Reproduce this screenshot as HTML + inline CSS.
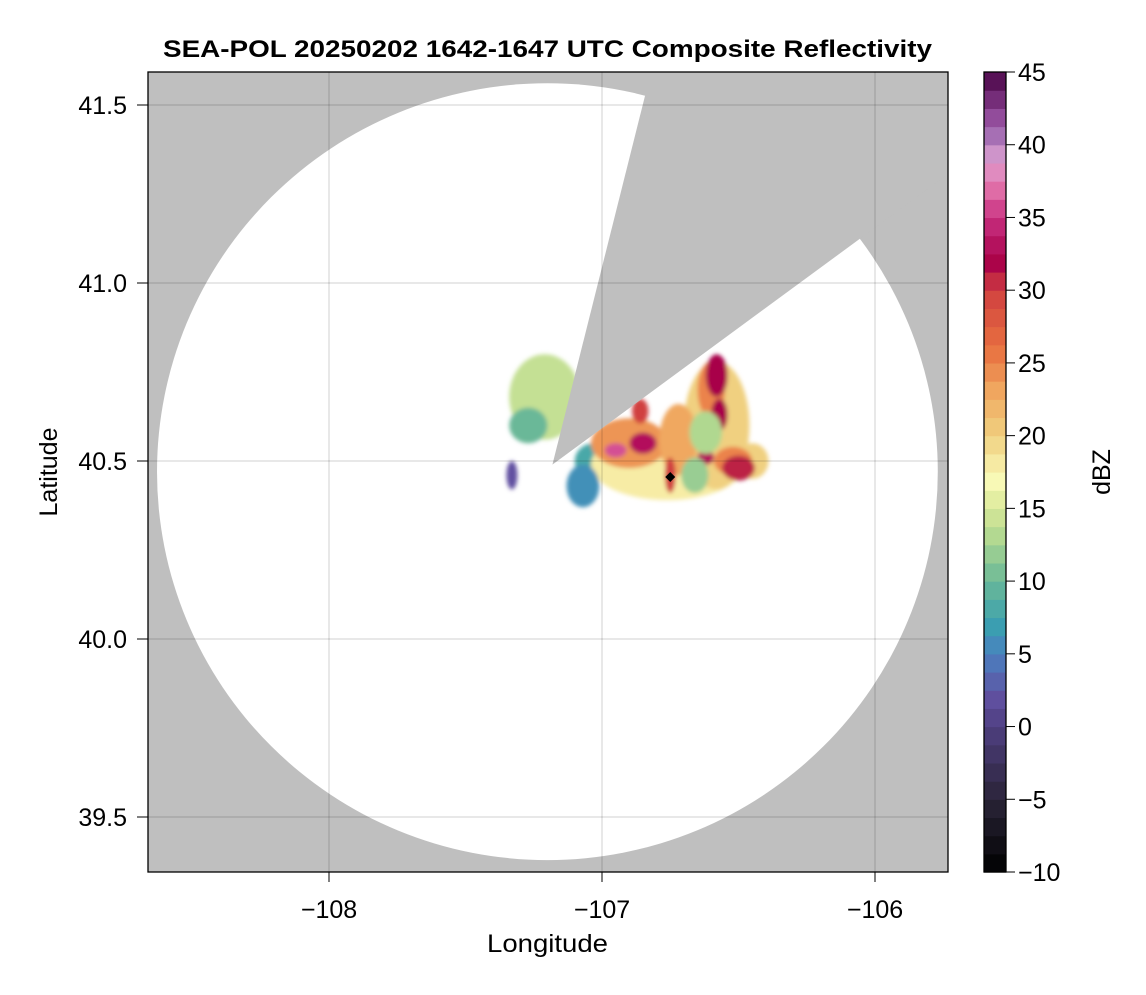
<!DOCTYPE html>
<html><head><meta charset="utf-8"><style>
body{margin:0;background:#fff;}
svg text{font-family:"Liberation Sans",Arial,sans-serif;fill:#000;}
</style></head><body>
<svg id="chart" width="1146" height="990" viewBox="0 0 1146 990" xmlns="http://www.w3.org/2000/svg">
<defs>
<clipPath id="plotclip"><rect x="148" y="72" width="800" height="800"/></clipPath>
<filter id="soft" x="-50%" y="-50%" width="200%" height="200%"><feGaussianBlur stdDeviation="2"/></filter>
</defs>
<text x="163" y="57" font-size="24" font-weight="bold" textLength="769" lengthAdjust="spacingAndGlyphs">SEA-POL 20250202 1642-1647 UTC Composite Reflectivity</text>
<g id="plot" clip-path="url(#plotclip)"></g>
<rect x="148" y="72" width="800" height="800" fill="none" stroke="#000" stroke-width="1.3"/>
<g id="axes"></g>
<g id="cbar"></g>
<text x="487" y="952" font-size="25" textLength="121" lengthAdjust="spacingAndGlyphs">Longitude</text>
<text transform="translate(57,472) rotate(-90)" font-size="25" text-anchor="middle">Latitude</text>
<text transform="translate(1110,472) rotate(-90)" font-size="25" text-anchor="middle">dBZ</text>
</svg>
<script>
const xTicks=[-108,-107,-106];
const yTicks=[39.5,40.0,40.5,41.0,41.5];
const cbTicks=[-10,-5,0,5,10,15,20,25,30,35,40,45];
const radarLon=-107.2, radarLat=40.47, radarRangeDeg=1.43;
// echo cells: lon, lat, radius lon (deg), radius lat (deg), dBZ
const cellLon=[-107.21,-107.27,-107.33,-107.03,-106.76,-106.58,-106.45,-107.07,-106.90,-106.72,-106.60,-106.52,-106.95,-106.85,-106.58,-106.57,-106.50,-106.62,-106.75,-106.86,-106.66,-106.62];
const cellLat=[40.68,40.60,40.46,40.50,40.49,40.60,40.50,40.43,40.55,40.56,40.70,40.50,40.53,40.55,40.74,40.63,40.48,40.51,40.46,40.64,40.46,40.58];
const cellRx=[0.13,0.07,0.02,0.07,0.28,0.12,0.06,0.06,0.14,0.07,0.05,0.07,0.04,0.05,0.04,0.03,0.06,0.03,0.02,0.03,0.05,0.06];
const cellRy=[0.12,0.05,0.04,0.05,0.10,0.18,0.05,0.06,0.07,0.10,0.08,0.04,0.02,0.03,0.06,0.045,0.035,0.02,0.05,0.035,0.05,0.06];
const cellDbz=[14,10,2,8,18,20,20,6,24,23,25,25,36,33,32,32,31,33,30,30,12,13];
const stationLon=-106.75, stationLat=40.455;

const X=v=>602+(v+107)*273;
const Y=v=>461-(v-40.5)*356;
const CB=v=>872-(v+10)*800/55;
const NS='http://www.w3.org/2000/svg';
function mk(t,a,p){const e=document.createElementNS(NS,t);for(const k in a)e.setAttribute(k,a[k]);p.appendChild(e);return e;}

const stops=[[-10,[0,0,0]],[-5,[42,36,56]],[0,[79,63,128]],[2,[96,80,160]],[5,[74,128,192]],[7,[58,160,176]],[10,[106,184,152]],[13,[176,216,144]],[15,[216,232,152]],[17,[250,250,184]],[20,[240,208,128]],[23,[240,168,96]],[26,[232,112,64]],[30,[208,64,64]],[32,[168,0,74]],[35,[200,48,128]],[37,[224,112,168]],[39,[224,160,208]],[40,[176,128,192]],[42,[144,72,152]],[44,[96,24,96]],[45,[74,8,72]]];
function cmap(v){
  if(v<=stops[0][0])return 'rgb(0,0,0)';
  for(let i=1;i<stops.length;i++){if(v<=stops[i][0]){const[a,ca]=stops[i-1],[b,cb]=stops[i];const t=(v-a)/(b-a);return 'rgb('+ca.map((c,j)=>Math.round(c+(cb[j]-c)*t)).join(',')+')';}}
  return 'rgb(74,8,72)';
}

const plot=document.getElementById('plot');
let r=mk('rect',{x:148,y:72,width:800,height:800,fill:'#bfbfbf'},plot);


let c=mk('ellipse',{cx:X(radarLon),cy:Y(radarLat),rx:radarRangeDeg*273,ry:radarRangeDeg*273*388/390,fill:'#fff'},plot);


const eg=mk('g',{filter:'url(#soft)'},plot);


for(let i=0;i<cellLon.length;i++){
  const e=mk('ellipse',{cx:X(cellLon[i]),cy:Y(cellLat[i]),rx:cellRx[i]*273,ry:cellRy[i]*356,fill:cmap(cellDbz[i])},eg);
  
  
}
const ax=X(radarLon)+5, ay=Y(radarLat)-7;
let w=mk('polygon',{points:`${ax},${ay} 651,72 948,72 948,174`,fill:'#bfbfbf'},plot);


const sx=X(stationLon), sy=Y(stationLat);
let d=mk('polygon',{points:`${sx},${sy-5} ${sx+5},${sy} ${sx},${sy+5} ${sx-5},${sy}`,fill:'#000'},plot);


xTicks.forEach(v=>{const l=mk('line',{x1:X(v),x2:X(v),y1:72,y2:872,stroke:'rgba(0,0,0,0.12)','stroke-width':1.5},plot);
  
  });
yTicks.forEach(v=>{const l=mk('line',{x1:148,x2:948,y1:Y(v),y2:Y(v),stroke:'rgba(0,0,0,0.12)','stroke-width':1.5},plot);
  
  });

const axes=document.getElementById('axes');
xTicks.forEach(v=>{mk('line',{x1:X(v),x2:X(v),y1:872,y2:882,stroke:'#000'},axes);
  const t=mk('text',{x:X(v),y:918,'font-size':25,'text-anchor':'middle'},axes);t.textContent='\u2212'+Math.abs(v);
  
  });
yTicks.forEach(v=>{mk('line',{x1:137,x2:148,y1:Y(v),y2:Y(v),stroke:'#000'},axes);
  const t=mk('text',{x:127,y:Y(v)+9,'font-size':25,'text-anchor':'end'},axes);t.textContent=v.toFixed(1);
  
  });

const cb=document.getElementById('cbar');


const step=1.25;
for(let v=-10;v<45;v+=step){mk('rect',{x:984,y:CB(v+step),width:22,height:CB(v)-CB(v+step)+0.6,fill:cmap(v+step/2)},cb);}
mk('rect',{x:984,y:72,width:22,height:800,fill:'none',stroke:'#000','stroke-width':1.3},cb);
cbTicks.forEach(v=>{mk('line',{x1:1006,x2:1015,y1:CB(v),y2:CB(v),stroke:'#000'},cb);
  const t=mk('text',{x:1018,y:CB(v)+9,'font-size':25},cb);t.textContent=v<0?'\u2212'+Math.abs(v):String(v);
  
  });
</script>
</body></html>
